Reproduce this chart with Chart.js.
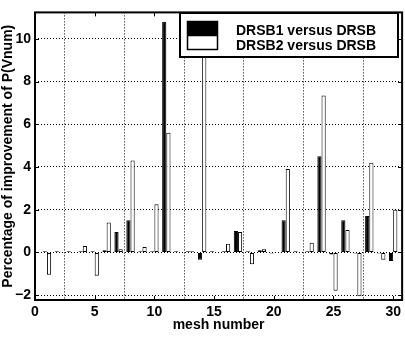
<!DOCTYPE html>
<html lang="en">
<head>
    <meta charset="UTF-8">
    <title>Improvement of P(Vnum) per mesh</title>
    <script src="https://cdn.jsdelivr.net/npm/chart.js"></script>
    <style>
        body {
            margin: 0;
            background-color: #fff;
        }
        #wrap {
            width: 405px;
            height: 338px;
        }
    </style>
</head>
<body>
    <div id="wrap">
        <canvas id="myChart" width="405" height="338"></canvas>
    </div>

    <script>
        // data
        const meshNumbers = [1, 2, 3, 4, 5, 6, 7, 8, 9, 10, 11, 12, 13, 14, 15,
                             16, 17, 18, 19, 20, 21, 22, 23, 24, 25, 26, 27, 28, 29, 30];
        const drsb1Values = [0.05, 0.05, 0.05, 0.05, 0.05, 0.1, 0.95, 1.5, 0.05, 0.05,
                             10.8, 0.05, 0.05, -0.35, 0.05, 0.05, 1.0, 0.05, 0.1, -0.05,
                             1.5, 0.05, 0.05, 4.5, -0.1, 1.5, -0.05, 1.7, -0.05, -0.4];
        const drsb2Values = [-1.05, 0.02, 0.02, 0.3, -1.1, 1.4, 0.15, 4.3, 0.25, 2.25,
                             5.6, 0.02, 0.05, 10.5, 0.02, 0.4, 0.95, -0.55, 0.15, 0.02,
                             3.9, 0.02, 0.45, 7.35, -1.8, 1.05, -2.05, 4.2, -0.35, 2.0];
        const seriesNames = ['DRSB1 versus DRSB', 'DRSB2 versus DRSB'];
        const xTicks = [0, 5, 10, 15, 20, 25, 30];
        const yTicks = [-2, 0, 2, 4, 6, 8, 10];

        const FONT = '"Liberation Sans", Arial, Helvetica, sans-serif';

        // box round the plot + little inward ticks like matlab
        const framePlugin = {
            id: 'frame',
            afterDatasetsDraw(chart) {
                const { ctx, chartArea: a, scales } = chart;
                ctx.save();
                ctx.strokeStyle = '#000';
                ctx.lineWidth = 1;
                ctx.beginPath();
                xTicks.forEach(v => {
                    const x = Math.round(scales.x.getPixelForValue(v)) + 0.5;
                    ctx.moveTo(x, a.bottom); ctx.lineTo(x, a.bottom - 4);
                    ctx.moveTo(x, a.top); ctx.lineTo(x, a.top + 4);
                });
                yTicks.forEach(v => {
                    const y = Math.round(scales.y.getPixelForValue(v)) + 0.5;
                    ctx.moveTo(a.left, y); ctx.lineTo(a.left + 4, y);
                    ctx.moveTo(a.right, y); ctx.lineTo(a.right - 4, y);
                });
                ctx.stroke();
                ctx.lineWidth = 2;
                ctx.strokeRect(a.left, a.top, a.right - a.left, a.bottom - a.top);
                ctx.restore();
            }
        };

        // legend sits inside the axes, top right
        const legendPlugin = {
            id: 'boxLegend',
            afterDraw(chart) {
                const ctx = chart.ctx;
                ctx.save();
                ctx.fillStyle = '#fff';
                ctx.fillRect(180, 13, 218, 44);
                ctx.strokeStyle = '#000';
                ctx.lineWidth = 2;
                ctx.strokeRect(180, 13, 218, 44);

                ctx.fillStyle = '#000';
                ctx.fillRect(187, 21, 31, 14);
                ctx.lineWidth = 1.5;
                ctx.strokeRect(187.5, 21.5, 30, 28);
                ctx.beginPath();
                ctx.moveTo(187, 35.5); ctx.lineTo(218, 35.5);
                ctx.stroke();

                ctx.font = 'bold 14px ' + FONT;
                ctx.textBaseline = 'alphabetic';
                ctx.textAlign = 'left';
                ctx.fillText(seriesNames[0], 236, 35);
                ctx.fillText(seriesNames[1], 236, 50);
                ctx.restore();
            }
        };

        const ctx = document.getElementById('myChart').getContext('2d');

        const chartData = {
            datasets: [{
                label: seriesNames[0],
                data: meshNumbers.map((m, i) => ({ x: m, y: drsb1Values[i] })),
                backgroundColor: '#000',
                borderColor: '#000',
                borderWidth: 1,
                borderSkipped: false
            }, {
                label: seriesNames[1],
                data: meshNumbers.map((m, i) => ({ x: m, y: drsb2Values[i] })),
                backgroundColor: '#fff',
                borderColor: '#000',
                borderWidth: 1,
                borderSkipped: false
            }]
        };

        const tickFont = { family: FONT, size: 14, weight: 'bold' };

        const chartOptions = {
            responsive: false,
            animation: false,
            categoryPercentage: 0.7,
            barPercentage: 1.0,
            layout: { padding: { top: 8, right: 2, left: 0, bottom: 0 } },
            plugins: {
                legend: { display: false },
                tooltip: { enabled: false }
            },
            scales: {
                x: {
                    type: 'linear',
                    min: 0,
                    max: 30.75,
                    offset: false,
                    afterBuildTicks: s => { s.ticks = xTicks.map(v => ({ value: v })); },
                    afterFit: s => { s.height = 38; },
                    grid: { color: '#000', lineWidth: 1, drawTicks: false },
                    border: { display: false, dash: [1, 2] },
                    ticks: { color: '#000', font: tickFont, padding: 4, maxRotation: 0 },
                    title: {
                        display: true,
                        text: 'mesh number',
                        color: '#000',
                        font: tickFont,
                        padding: { top: 0, bottom: 4 }
                    }
                },
                y: {
                    min: -2.23,
                    max: 11.24,
                    afterBuildTicks: s => { s.ticks = yTicks.map(v => ({ value: v })); },
                    afterFit: s => { s.width = 35; },
                    grid: { color: '#000', lineWidth: 1, drawTicks: false },
                    border: { display: false, dash: [1, 2] },
                    ticks: {
                        color: '#000',
                        font: tickFont,
                        padding: 4,
                        callback: v => String(v).replace('-', '\u2212')
                    },
                    title: {
                        display: true,
                        text: 'Percentage of improvement of P(Vnum)',
                        color: '#000',
                        font: tickFont,
                        padding: 0
                    }
                }
            }
        };

        new Chart(ctx, {
            type: 'bar',
            data: chartData,
            options: chartOptions,
            plugins: [framePlugin, legendPlugin]
        });
    </script>
</body>
</html>
